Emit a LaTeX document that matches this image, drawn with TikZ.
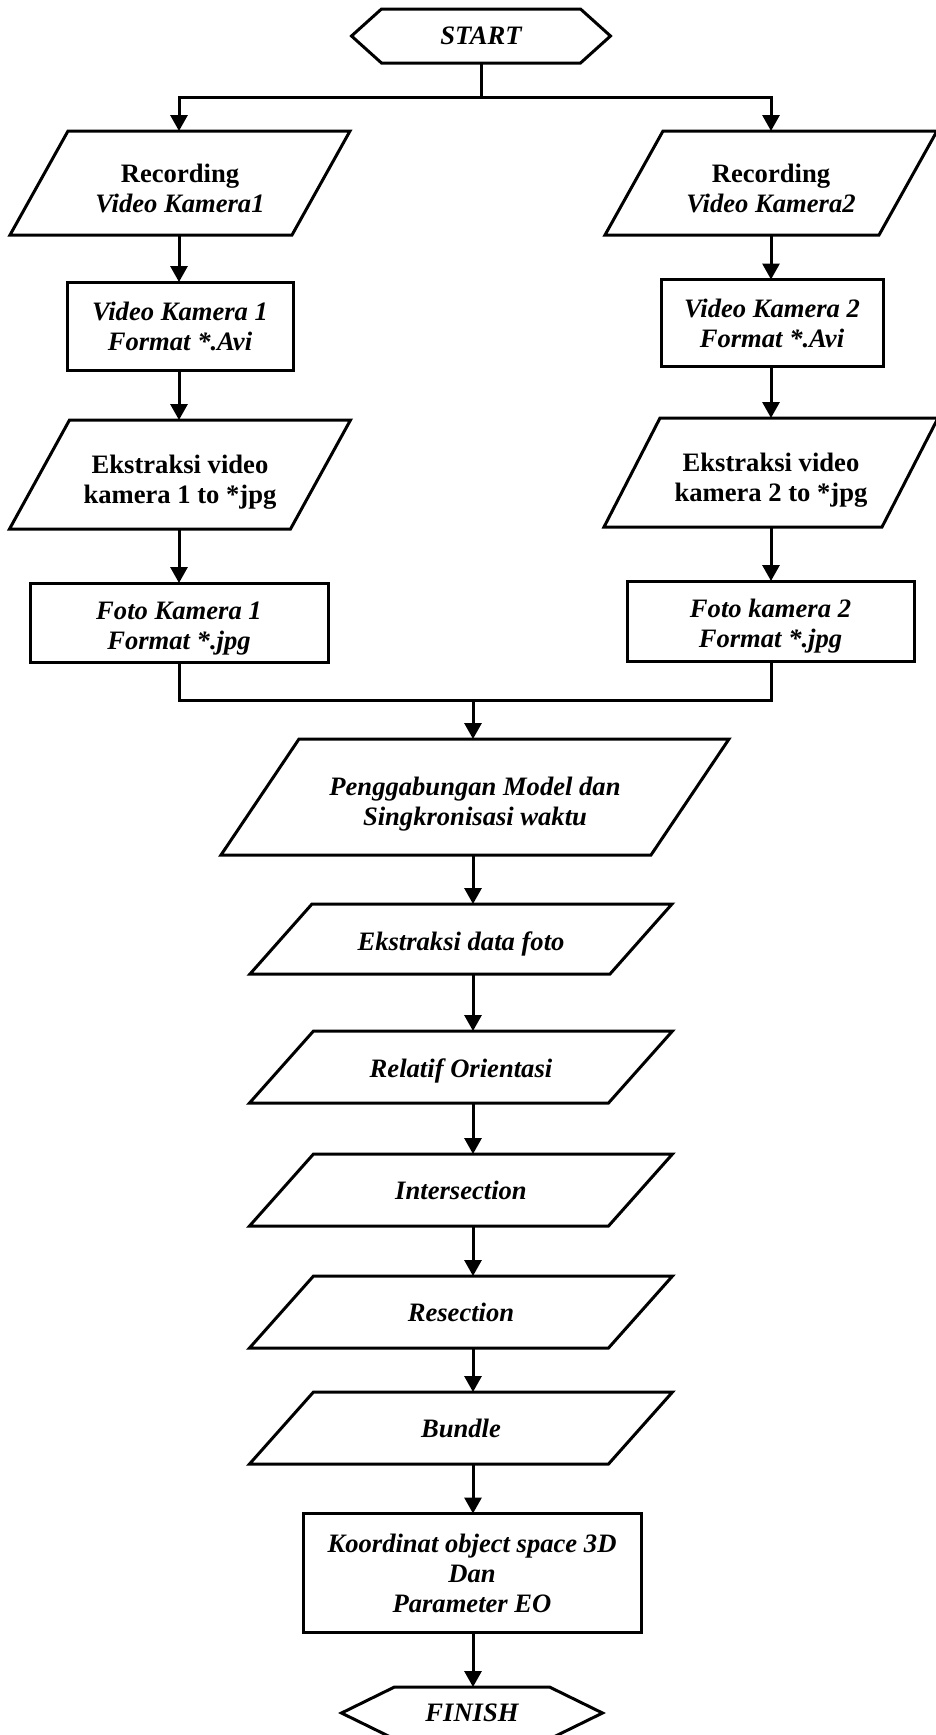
\documentclass[tikz,border=0pt]{standalone}
\usepackage{fontspec}
\setmainfont{Liberation Serif}
\usetikzlibrary{arrows.meta,calc}
\newcommand\fsz{\fontsize{13.3}{15}\selectfont}
\newcommand\dn[1]{\rule{0pt}{\dimexpr9.2pt+#1*2\relax}}
\newcommand\pgram[2]{\draw[lw,line join=miter] ([xshift=#2]#1.north west) -- ([xshift=#2]#1.north east) -- ([xshift=-#2]#1.south east) -- ([xshift=-#2]#1.south west) -- cycle;}
\newcommand\hexa[2]{\draw[lw,line join=miter] (#1.west) -- ([xshift=#2]#1.north west) -- ([xshift=-#2]#1.north east) -- (#1.east) -- ([xshift=-#2]#1.south east) -- ([xshift=#2]#1.south west) -- cycle;}
\begin{document}
\begin{tikzpicture}[x=0.5pt,y=-0.5pt,
  lw/.style={line width=1.5pt},
  arr/.style={lw,-{Triangle[length=8pt,width=8.5pt]}},
  txt/.style={inner sep=0pt,outer sep=0pt,align=center,font=\fsz\bfseries},
  rectbox/.style={txt,draw,lw},
]
\fill[white] (0,0) rectangle (936,1735);
\useasboundingbox (0,0) rectangle (936,1735);

% columns
\coordinate (colL) at (179,0);
\coordinate (colR) at (771,0);
\coordinate (colM) at (473,0);
\coordinate (bL) at (179,97);
\coordinate (bR) at (771,97);
\coordinate (mrg) at (473,700);

% nodes
\node[txt,minimum width=129.5pt,minimum height=27pt] (start) at (481,36) {\itshape START};
\hexa{start}{15pt}

\node[txt,minimum width=141pt,minimum height=52pt] (rec1) at (180,183) {\dn{2.5pt}Recording\\\itshape Video Kamera1};
\pgram{rec1}{14.5pt}
\node[txt,minimum width=137pt,minimum height=52pt] (rec2) at (771,183) {\dn{2.5pt}Recording\\\itshape Video Kamera2};
\pgram{rec2}{14.5pt}

\node[rectbox,minimum width=113pt,minimum height=44pt] (vk1) at (180,326) {\itshape Video Kamera 1\\\itshape Format *.Avi};
\node[rectbox,minimum width=111pt,minimum height=43.5pt] (vk2) at (772,323) {\itshape Video Kamera 2\\\itshape Format *.Avi};

\node[txt,minimum width=140.5pt,minimum height=54.5pt] (ek1) at (180,474.5) {\dn{3.8pt}Ekstraksi video\\kamera 1 to *jpg};
\pgram{ek1}{15pt}
\node[txt,minimum width=139pt,minimum height=54.5pt] (ek2) at (771,472.5) {\dn{3.8pt}Ekstraksi video\\kamera 2 to *jpg};
\pgram{ek2}{14pt}

\node[rectbox,minimum width=149pt,minimum height=39.5pt] (ft1) at (179,622.5) {\dn{2.6pt}\itshape Foto Kamera 1\\\itshape Format *.jpg};
\node[rectbox,minimum width=143.5pt,minimum height=40pt] (ft2) at (770.5,621) {\dn{2.6pt}\itshape Foto kamera 2\\\itshape Format *.jpg};

\node[txt,minimum width=215pt,minimum height=58pt] (pg) at (475,797) {\dn{3.4pt}\itshape Penggabungan Model dan\\\itshape Singkronisasi waktu};
\pgram{pg}{19.5pt}

\node[txt,minimum width=180pt,minimum height=35pt] (edf) at (461,939) {\dn{2.6pt}\itshape Ekstraksi data foto};
\pgram{edf}{15.5pt}
\node[txt,minimum width=179.5pt,minimum height=36pt] (rel) at (461,1067) {\dn{2pt}\itshape Relatif Orientasi};
\pgram{rel}{16pt}
\node[txt,minimum width=179.5pt,minimum height=36pt] (int) at (461,1190) {\itshape Intersection};
\pgram{int}{16pt}
\node[txt,minimum width=179.5pt,minimum height=36pt] (res) at (461,1312) {\itshape Resection};
\pgram{res}{16pt}
\node[txt,minimum width=179.5pt,minimum height=36pt] (bun) at (461,1428) {\itshape Bundle};
\pgram{bun}{16pt}

\node[rectbox,minimum width=169pt,minimum height=59.5pt] (koo) at (472,1573) {\itshape Koordinat object space 3D\\\itshape Dan\\\itshape Parameter EO};

\node[txt,minimum width=130.5pt,minimum height=26pt] (fin) at (472,1713) {\itshape FINISH};
\hexa{fin}{26.5pt}

% connectors
\draw[lw] (start.south) -- (start.south |- bL);
\draw[arr] (start.south |- bL) -| (rec1.north -| bL);
\draw[arr] (start.south |- bL) -| (rec2.north -| bR);

\draw[arr] (rec1.south -| colL) -- (vk1.north -| colL);
\draw[arr] (vk1.south -| colL) -- (ek1.north -| colL);
\draw[arr] (ek1.south -| colL) -- (ft1.north -| colL);
\draw[arr] (rec2.south -| colR) -- (vk2.north -| colR);
\draw[arr] (vk2.south -| colR) -- (ek2.north -| colR);
\draw[arr] (ek2.south -| colR) -- (ft2.north -| colR);

\draw[lw] (ft1.south -| colL) |- (mrg) -| (ft2.south -| colR);
\draw[arr] (mrg) -- (pg.north -| mrg);

\draw[arr] (pg.south -| colM) -- (edf.north -| colM);
\draw[arr] (edf.south -| colM) -- (rel.north -| colM);
\draw[arr] (rel.south -| colM) -- (int.north -| colM);
\draw[arr] (int.south -| colM) -- (res.north -| colM);
\draw[arr] (res.south -| colM) -- (bun.north -| colM);
\draw[arr] (bun.south -| colM) -- (koo.north -| colM);
\draw[arr] (koo.south -| colM) -- (fin.north -| colM);
\end{tikzpicture}
\end{document}
